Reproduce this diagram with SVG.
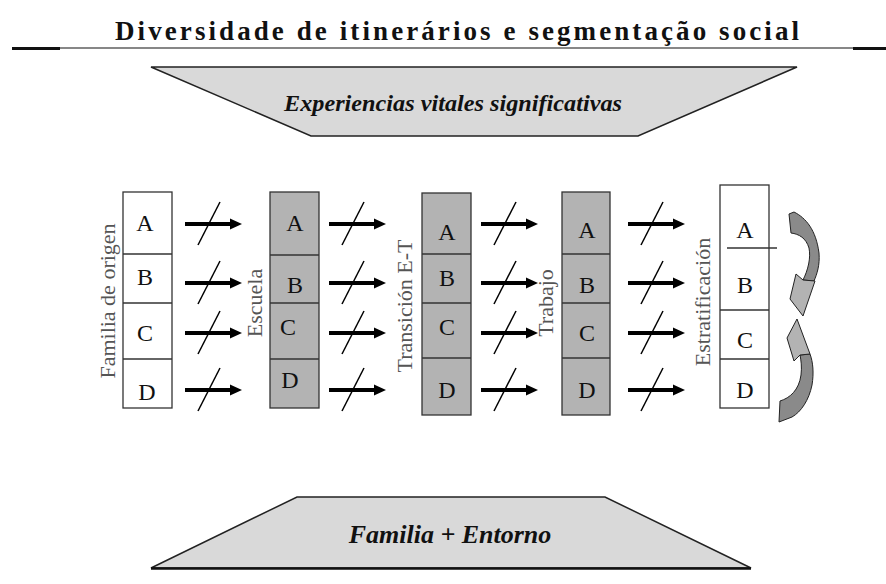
<svg xmlns="http://www.w3.org/2000/svg" xmlns:xlink="http://www.w3.org/1999/xlink" width="886" height="584" viewBox="0 0 886 584">
<style>
.title{font-family:"Liberation Serif","DejaVu Serif","Noto Serif",serif;font-weight:bold;font-size:27px;fill:#111}
.band{fill:#d9d9d9;stroke:#222;stroke-width:1.5}
.bandtxt{font-family:"Liberation Serif","DejaVu Serif","Noto Serif",serif;font-weight:bold;font-style:italic;fill:#111;text-anchor:middle}
.box{stroke:#333;stroke-width:1.3}
.white{fill:#fff}
.gray{fill:#b3b3b3}
.div{stroke:#333;stroke-width:1.3}
.let{font-family:"Liberation Serif","DejaVu Serif","Noto Serif",serif;font-size:24px;fill:#111;text-anchor:middle}
.lab{font-family:"Liberation Serif","DejaVu Serif","Noto Serif",serif;font-size:22px;fill:#555;text-anchor:middle}
.cyc{fill:#8a8a8a;stroke:#222;stroke-width:1}
.cychead{fill:#b3b3b3;stroke:#222;stroke-width:1}
</style>
<defs>
<g id="arw">
<line x1="0" y1="0" x2="47" y2="0" stroke="#000" stroke-width="4"/>
<polygon points="45,-5.5 57,0 45,5.5" fill="#000"/>
<line x1="13" y1="21" x2="35" y2="-22" stroke="#000" stroke-width="1.5"/>
</g>
</defs>

<g id="title">
<text class="title" x="115" y="40" textLength="684" lengthAdjust="spacing">Diversidade de itinerários e segmentação social</text>
<line x1="12" y1="48" x2="886" y2="48" stroke="#111" stroke-width="1.2"/>
<line x1="12" y1="48.5" x2="60" y2="48.5" stroke="#111" stroke-width="3"/>
<line x1="853" y1="48.5" x2="886" y2="48.5" stroke="#111" stroke-width="3"/>
</g>

<g id="experiencias">
<polygon class="band" points="151,67 797,67 638,136 311,136"/>
<text class="bandtxt" x="453" y="111" font-size="24" textLength="338" lengthAdjust="spacingAndGlyphs">Experiencias vitales significativas</text>
</g>

<g id="familia-origen">
<rect class="box white" x="123" y="192" width="49" height="216"/>
<line class="div" x1="123" y1="254" x2="172" y2="254"/>
<line class="div" x1="123" y1="303" x2="172" y2="303"/>
<line class="div" x1="123" y1="359" x2="172" y2="359"/>
<text class="let" x="145" y="231">A</text>
<text class="let" x="145" y="285">B</text>
<text class="let" x="145" y="341">C</text>
<text class="let" x="147" y="400">D</text>
<text class="lab" transform="translate(115,301) rotate(-90)">Familia de origen</text>
</g>

<g id="escuela">
<rect class="box gray" x="270" y="192" width="49" height="216"/>
<line class="div" x1="270" y1="255" x2="319" y2="255"/>
<line class="div" x1="270" y1="303" x2="319" y2="303"/>
<line class="div" x1="270" y1="359" x2="319" y2="359"/>
<text class="let" x="295" y="231">A</text>
<text class="let" x="295" y="293">B</text>
<text class="let" x="288" y="335">C</text>
<text class="let" x="290" y="388">D</text>
<text class="lab" transform="translate(262,303) rotate(-90)">Escuela</text>
</g>

<g id="transicion">
<rect class="box gray" x="422" y="193" width="49" height="222"/>
<line class="div" x1="422" y1="254" x2="471" y2="254"/>
<line class="div" x1="422" y1="303" x2="471" y2="303"/>
<line class="div" x1="422" y1="358" x2="471" y2="358"/>
<text class="let" x="447" y="240">A</text>
<text class="let" x="447" y="286">B</text>
<text class="let" x="447" y="335">C</text>
<text class="let" x="447" y="398">D</text>
<text class="lab" transform="translate(412,306) rotate(-90)">Transición E-T</text>
</g>

<g id="trabajo">
<rect class="box gray" x="562" y="192" width="48" height="223"/>
<line class="div" x1="562" y1="254" x2="610" y2="254"/>
<line class="div" x1="562" y1="303" x2="610" y2="303"/>
<line class="div" x1="562" y1="358" x2="610" y2="358"/>
<text class="let" x="587" y="238">A</text>
<text class="let" x="587" y="293">B</text>
<text class="let" x="587" y="341">C</text>
<text class="let" x="587" y="398">D</text>
<text class="lab" transform="translate(553,303) rotate(-90)">Trabajo</text>
</g>

<g id="estratificacion">
<rect class="box white" x="720" y="185" width="49" height="223"/>
<line class="div" x1="727" y1="248" x2="777" y2="248"/>
<line class="div" x1="720" y1="310" x2="769" y2="310"/>
<line class="div" x1="720" y1="359" x2="769" y2="359"/>
<text class="let" x="745" y="238">A</text>
<text class="let" x="745" y="293">B</text>
<text class="let" x="745" y="348">C</text>
<text class="let" x="745" y="398">D</text>
<text class="lab" transform="translate(710,302) rotate(-90)">Estratificación</text>
</g>

<g id="connectors">
<use xlink:href="#arw" x="185" y="224"/>
<use xlink:href="#arw" x="185" y="283"/>
<use xlink:href="#arw" x="185" y="333"/>
<use xlink:href="#arw" x="185" y="390"/>
<use xlink:href="#arw" x="329" y="224"/>
<use xlink:href="#arw" x="329" y="283"/>
<use xlink:href="#arw" x="329" y="333"/>
<use xlink:href="#arw" x="329" y="390"/>
<use xlink:href="#arw" x="481" y="224"/>
<use xlink:href="#arw" x="481" y="283"/>
<use xlink:href="#arw" x="481" y="333"/>
<use xlink:href="#arw" x="481" y="390"/>
<use xlink:href="#arw" x="628" y="224"/>
<use xlink:href="#arw" x="628" y="283"/>
<use xlink:href="#arw" x="628" y="333"/>
<use xlink:href="#arw" x="628" y="390"/>
<g id="cycle-up">
<path class="cyc" d="M789,214 L794,212 C806,218 816,230 819,253 C820,265 817,274 814,281 L803,280 C808,270 811,258 809,248 C806,238 799,234 791,233 Z"/>
<path class="cychead" d="M803,280 L796,274 L790,299 L803,316 L815,281 Z"/>
</g>
<g id="cycle-down">
<path class="cyc" d="M779,422 L780,401 C790,398 799,390 801,375 C802,367 801,360 800,355 L810,354 C813,362 814,373 812,385 C809,400 801,412 792,417 Z"/>
<path class="cychead" d="M800,355 L794,361 L787,338 L797,319 L810,354 Z"/>
</g>
</g>

<g id="familia-entorno">
<polygon class="band" points="297,497 605,497 751,568 151,568"/>
<line x1="151" y1="568.5" x2="751" y2="568.5" stroke="#111" stroke-width="2.5"/>
<text class="bandtxt" x="450" y="543" font-size="26">Familia + Entorno</text>
</g>
</svg>
